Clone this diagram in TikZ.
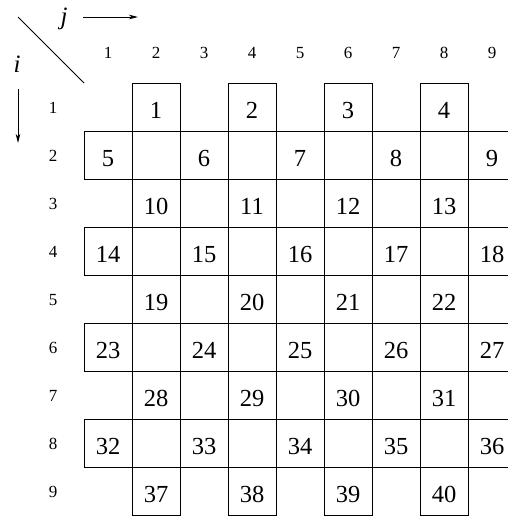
\documentclass[tikz,border=0pt]{standalone}
\usepackage{fontspec}
\setmainfont{Liberation Serif}
\usetikzlibrary{arrows.meta}
\begin{document}
\begin{tikzpicture}[x=1pt,y=-1pt,
  cell/.style={draw,line width=1pt,minimum size=48pt,inner sep=0pt,
    font=\fontsize{24.5}{25}\selectfont,text height=23pt,text depth=0pt},
  idx/.style={font=\fontsize{17}{18}\selectfont,inner sep=0pt},
  axis/.style={font=\fontsize{25}{25}\selectfont\itshape,inner sep=0pt},
  arr/.style={line width=1pt,-{Stealth[length=9pt,width=4.5pt,inset=2.5pt]}},
  ln/.style={line width=1pt}]
\useasboundingbox (0,0) rectangle (508,517);
\clip (0,0) rectangle (508,517);
\foreach \i in {1,...,9}{
  \foreach \j in {1,...,9}{
    \pgfmathtruncatemacro\rodd{mod(\i,2)}
    \pgfmathtruncatemacro\codd{mod(\j,2)}
    \pgfmathtruncatemacro\kk{div(\i-1,2)}
    \ifnum\rodd=1
      \ifnum\codd=0
        \pgfmathtruncatemacro\num{9*\kk+\j/2}
        \node[cell] (c-\i-\j) at ({108+(\j-1)*48},{107+(\i-1)*48}) {\num};
      \fi
    \else
      \ifnum\codd=1
        \pgfmathtruncatemacro\num{9*\kk+4+(\j+1)/2}
        \node[cell] (c-\i-\j) at ({108+(\j-1)*48},{107+(\i-1)*48}) {\num};
      \else
        \node[cell] (c-\i-\j) at ({108+(\j-1)*48},{107+(\i-1)*48}) {};
      \fi
    \fi
  }
}
\foreach \j in {1,...,9}{
  \node[idx] (col-\j) at ({108+(\j-1)*48},53) {\j};
  \node[idx] (row-\j) at (53,{108+(\j-1)*48}) {\j};
}
\node[axis] (jl) at (64,19) {j};
\node[axis] (il) at (17,64) {i};
\coordinate (ja) at (83,17);
\coordinate (jb) at (138,17);
\coordinate (ia) at (18,89);
\coordinate (ib) at (18,143);
\coordinate (d1) at (18,17);
\coordinate (d2) at (84,83);
\draw[arr] (ja) -- (jb);
\draw[arr] (ia) -- (ib);
\draw[ln] (d1) -- (d2);
\end{tikzpicture}
\end{document}
